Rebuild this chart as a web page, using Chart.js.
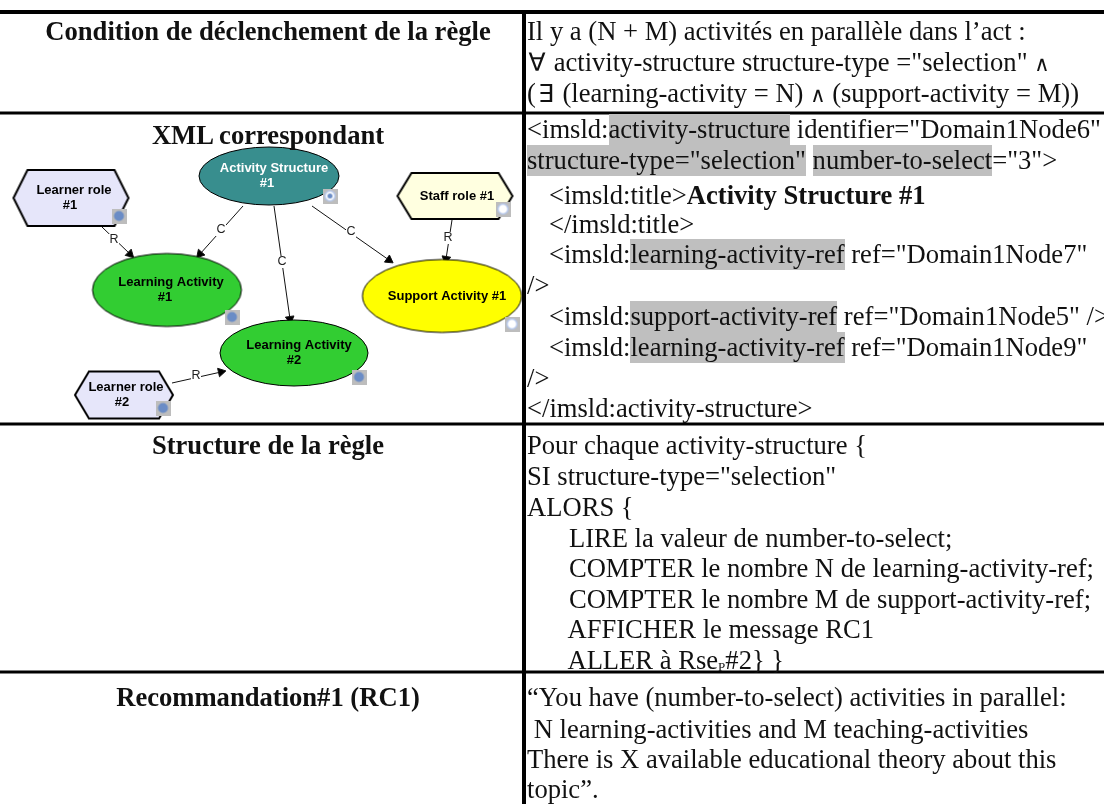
<!DOCTYPE html>
<html lang="fr">
<head>
<meta charset="UTF-8">
<title>Règle de sélection</title>
<script src="https://cdn.jsdelivr.net/npm/chart.js"></script>
<style>
  body { margin: 0; background: #fff; }
  #wrap { position: relative; width: 1104px; height: 804px; overflow: hidden; }
  #c { position: absolute; left: 0; top: 0; }
  .ln { position: absolute; left: 527px; white-space: pre; font: 26.6px/31px "Liberation Serif", serif; color: #111; }
  .hd { position: absolute; left: 0; width: 536px; text-align: center; font: bold 26.6px/31px "Liberation Serif", serif; color: #111; }
  mark { background: #bfbfbf; color: inherit; display: inline-block; }
  sub { font-size: 13px; line-height: 0; vertical-align: -2px; }
  .sym { font: 25px/20px "DejaVu Sans", sans-serif; display: inline-block; width: 20px; text-align: center; }
  .and { font: 21px/20px "DejaVu Sans", sans-serif; }
</style>
</head>
<body>
<div id="wrap">
  <canvas id="c" width="1104" height="804"></canvas>
</div>
<script>
// table text, [line centre y, markup]
const headings = [
  [31, 'Condition de déclenchement de la règle'],
  [135, 'XML correspondant'],
  [445, 'Structure de la règle'],
  [697, 'Recommandation#1 (RC1)']
];
const lines = [
  [31, 'Il y a (N + M) activités en parallèle dans l’act :'],
  [62, '<span class="sym">∀</span> activity-structure structure-type ="selection" <span class="and">∧</span>'],
  [93, '(<span class="sym">∃</span> (learning-activity = N) <span class="and">∧</span> (support-activity = M))'],
  [129, '&lt;imsld:<mark>activity-structure</mark> identifier="Domain1Node6"'],
  [160, '<mark>structure-type="selection"</mark> <mark>number-to-select</mark>="3"&gt;'],
  [195, '   &lt;imsld:title&gt;<b>Activity Structure #1</b>'],
  [224, '   &lt;/imsld:title&gt;'],
  [254, '   &lt;imsld:<mark>learning-activity-ref</mark> ref="Domain1Node7"'],
  [285, '/&gt;'],
  [316, '   &lt;imsld:<mark>support-activity-ref</mark> ref="Domain1Node5" /&gt;'],
  [347, '   &lt;imsld:<mark>learning-activity-ref</mark> ref="Domain1Node9"'],
  [378, '/&gt;'],
  [408, '&lt;/imsld:activity-structure&gt;'],
  [445, 'Pour chaque activity-structure {'],
  [476, 'SI structure-type="selection"'],
  [507, 'ALORS {'],
  [538, '      LIRE la valeur de number-to-select;'],
  [568, '      COMPTER le nombre N de learning-activity-ref;'],
  [599, '      COMPTER le nombre M de support-activity-ref;'],
  [629, '      AFFICHER le message RC1'],
  [660, '      ALLER à Rse<sub>P</sub>#2} }'],
  [697, '“You have (number-to-select) activities in parallel:'],
  [729, ' N learning-activities and M teaching-activities'],
  [759, 'There is X available educational theory about this'],
  [789, 'topic”.']
];

// diagram
const nodeNames = ['Activity Structure\n#1', 'Learner role\n#1', 'Staff role #1', 'Learning Activity\n#1', 'Support Activity #1', 'Learning Activity\n#2', 'Learner role\n#2'];
const nodeX = [269, 71, 455, 167, 442, 294, 124];
const nodeY = [176, 198, 196, 290, 296, 353, 395];
const badgeX = [330, 119, 503, 232, 512, 359, 163];
const badgeY = [196, 216, 209, 317, 324, 377, 408];
const edgeLabels = ['C', 'C', 'C', 'R', 'R', 'R'];
const edgeFromX = [243, 274, 312, 102, 452, 172];
const edgeFromY = [206, 206, 206, 227, 220, 383];
const edgeToX = [200, 290, 389, 130, 446, 221];
const edgeToY = [254, 319, 260, 254, 259, 372];
const edgeLabelX = [221, 282, 351, 114, 448, 196];
const edgeLabelY = [230, 262, 232, 240, 238, 376];

// table rules
const ruleY = [12, 113, 424, 672];
const ruleX = 524;

// labels are not quite centred in the source picture, one x shift per text line
const nodeStyles = [
  { kind: 'ellipse', w: 140, h: 58, fill: '#388e8e', text: '#fff', badge: 'ring', shift: [5, -2] },
  { kind: 'hex', w: 115, h: 56, fill: '#e6e6fa', text: '#000', badge: 'blue', shift: [3, -1] },
  { kind: 'hex', w: 115, h: 46, fill: '#ffffe0', text: '#000', badge: 'white', shift: [2] },
  { kind: 'ellipse', w: 149, h: 73, fill: '#32cd32', text: '#000', badge: 'blue', shift: [4, -2] },
  { kind: 'ellipse', w: 159, h: 73, fill: '#ffff00', text: '#000', badge: 'white', shift: [5] },
  { kind: 'ellipse', w: 148, h: 66, fill: '#32cd32', text: '#000', badge: 'blue', shift: [5, 0] },
  { kind: 'hex', w: 98, h: 47, fill: '#e6e6fa', text: '#000', badge: 'blue', shift: [2, -2] }
];

function nodeCanvas(s) {
  const c = document.createElement('canvas');
  c.width = s.w + 4; c.height = s.h + 4;
  const g = c.getContext('2d');
  const cx = c.width / 2, cy = c.height / 2, rx = s.w / 2, ry = s.h / 2;
  g.beginPath();
  if (s.kind === 'ellipse') {
    g.ellipse(cx, cy, rx, ry, 0, 0, Math.PI * 2);
    g.lineWidth = 1;
  } else {
    const inset = 14;
    g.moveTo(cx - rx, cy);
    g.lineTo(cx - rx + inset, cy - ry);
    g.lineTo(cx + rx - inset, cy - ry);
    g.lineTo(cx + rx, cy);
    g.lineTo(cx + rx - inset, cy + ry);
    g.lineTo(cx - rx + inset, cy + ry);
    g.closePath();
    g.lineWidth = 2;
  }
  g.fillStyle = s.fill;
  g.fill();
  g.strokeStyle = '#000';
  g.stroke();
  return c;
}

function badgeCanvas(kind) {
  const c = document.createElement('canvas');
  c.width = 15; c.height = 15;
  const g = c.getContext('2d');
  g.fillStyle = '#bdbdbd';
  g.fillRect(0, 0, 15, 15);
  g.beginPath();
  g.arc(7.5, 7.5, 5, 0, Math.PI * 2);
  g.fillStyle = kind === 'blue' ? '#6a8cc6' : '#fff';
  g.fill();
  if (kind !== 'blue') {
    g.strokeStyle = '#b4c6ea';
    g.lineWidth = 1.5;
    g.stroke();
  }
  if (kind === 'ring') {
    g.beginPath();
    g.arc(7.5, 7.5, 2.5, 0, Math.PI * 2);
    g.fillStyle = '#6a8cc6';
    g.fill();
  }
  return c;
}

const datasets = [];

// rules
ruleY.forEach(function (y, i) {
  datasets.push({
    order: 4,
    data: [{ x: 0, y: y }, { x: 1104, y: y }],
    showLine: true, pointRadius: 0, borderColor: '#000', borderWidth: i === 0 ? 4 : 3
  });
});
datasets.push({
  order: 4,
  data: [{ x: ruleX, y: ruleY[0] }, { x: ruleX, y: 804 }],
  showLine: true, pointRadius: 0, borderColor: '#000', borderWidth: 4
});

// edges
edgeFromX.forEach(function (x, i) {
  const angle = Math.atan2(edgeToY[i] - edgeFromY[i], edgeToX[i] - x) * 180 / Math.PI + 90;
  datasets.push({
    order: 3,
    data: [{ x: x, y: edgeFromY[i] }, { x: edgeToX[i], y: edgeToY[i] }],
    showLine: true, borderColor: '#111', borderWidth: 1,
    pointStyle: 'triangle', rotation: angle,
    pointRadius: [0, 5], backgroundColor: '#000'
  });
});

// nodes and their little state badges, badges on top
datasets.push({
  order: 2,
  data: nodeX.map(function (x, i) { return { x: x, y: nodeY[i] }; }),
  pointStyle: nodeStyles.map(nodeCanvas)
});
datasets.push({
  order: 1,
  data: badgeX.map(function (x, i) { return { x: x, y: badgeY[i] }; }),
  pointStyle: nodeStyles.map(function (s) { return badgeCanvas(s.badge); })
});

const diagramText = {
  id: 'diagramText',
  afterDatasetsDraw: function (chart) {
    const ctx = chart.ctx, sx = chart.scales.x, sy = chart.scales.y;
    ctx.save();
    ctx.textAlign = 'center';
    ctx.textBaseline = 'middle';
    ctx.font = '12.5px "Liberation Sans", Arial, sans-serif';
    edgeLabels.forEach(function (t, i) {
      const px = sx.getPixelForValue(edgeLabelX[i]), py = sy.getPixelForValue(edgeLabelY[i]);
      ctx.fillStyle = '#fff';
      ctx.fillRect(px - 5, py - 6, 10, 12);
      ctx.fillStyle = '#222';
      ctx.fillText(t, px, py);
    });
    ctx.font = 'bold 13px "Liberation Sans", Arial, sans-serif';
    nodeNames.forEach(function (name, i) {
      const px = sx.getPixelForValue(nodeX[i]), py = sy.getPixelForValue(nodeY[i]);
      const parts = name.split('\n');
      ctx.fillStyle = nodeStyles[i].text;
      parts.forEach(function (p, j) {
        ctx.fillText(p, px + nodeStyles[i].shift[j], py + (j - (parts.length - 1) / 2) * 15);
      });
    });
    ctx.restore();
  }
};

new Chart(document.getElementById('c').getContext('2d'), {
  type: 'scatter',
  data: { datasets: datasets },
  options: {
    responsive: false,
    animation: false,
    layout: { padding: 0, autoPadding: false },
    plugins: { legend: { display: false }, tooltip: { enabled: false } },
    scales: {
      x: { type: 'linear', display: false, min: 0, max: 1104 },
      y: { type: 'linear', display: false, min: 0, max: 804, reverse: true }
    }
  },
  plugins: [diagramText]
});

// table text on top of the canvas
const wrap = document.getElementById('wrap');
function addText(cls, row) {
  const d = document.createElement('div');
  d.className = cls;
  d.style.top = (row[0] - 15.5) + 'px';
  d.innerHTML = row[1];
  // indented lines sit 2px further right than whole spaces give
  if (row[1].startsWith('   ')) d.style.paddingLeft = '2px';
  wrap.appendChild(d);
}
headings.forEach(function (r) { addText('hd', r); });
lines.forEach(function (r) { addText('ln', r); });
</script>
</body>
</html>
